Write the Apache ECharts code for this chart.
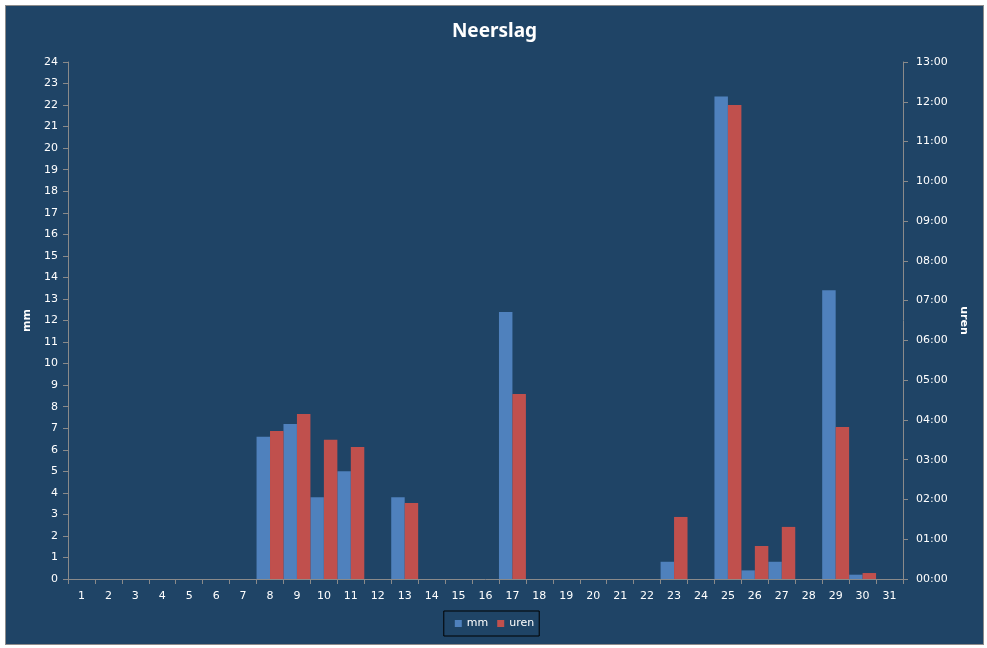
<!DOCTYPE html>
<html>
<head>
<meta charset="utf-8">
<script src="https://cdn.jsdelivr.net/npm/echarts@6/dist/echarts.min.js"></script>
<style>
html,body{margin:0;padding:0;background:#ffffff;width:987px;height:648px;overflow:hidden;}
#frame{position:absolute;left:5px;top:5px;width:977px;height:638px;border:1px solid #8c8c8c;background:#1f4466;}
#chart{width:977px;height:638px;}
</style>
</head>
<body>
<div id="frame"><div id="chart"></div></div>
<script>
const days = ['1','2','3','4','5','6','7','8','9','10','11','12','13','14','15','16','17','18','19','20','21','22','23','24','25','26','27','28','29','30','31'];
const mm = [0,0,0,0,0,0,0,6.6,7.2,3.8,5.0,0,3.8,0,0,0,12.4,0,0,0,0,0,0.8,0,22.4,0.4,0.8,0,13.4,0.2,0];
const uren = [0,0,0,0,0,0,0,3.72,4.15,3.5,3.32,0,1.91,0,0,0,4.65,0,0,0,0,0,1.56,0,11.92,0.83,1.31,0,3.82,0.15,0];
const seriesNames = ['mm','uren'];

const chart = echarts.init(document.getElementById('chart'));
const labelFont = {color:'#ffffff', fontFamily:'DejaVu Sans', fontSize:11};
const axisLineStyle = {lineStyle:{color:'#8a8a8a', width:1}};
chart.setOption({
  backgroundColor:'#1f4466',
  animation:false,
  title:{text:'Neerslag', left:'center', top:11, textStyle:{color:'#ffffff', fontFamily:'Noto Sans', fontWeight:'bold', fontSize:19}},
  legend:{data:seriesNames, left:'center', top:605, itemWidth:7, itemHeight:7, itemGap:9,
    borderColor:'#000000', borderWidth:1, padding:[7,5,7,11], icon:'rect',
    textStyle:{color:'#ffffff', fontFamily:'DejaVu Sans', fontSize:11}},
  grid:{left:62, right:80, top:56, bottom:65},
  xAxis:{type:'category', data:days, axisLine:{show:true, lineStyle:{color:'#8a8a8a'}},
    axisTick:{show:true, alignWithLabel:false, length:5, lineStyle:{color:'#8a8a8a'}},
    axisLabel:Object.assign({margin:12, interval:0}, labelFont), splitLine:{show:false}},
  yAxis:[
    {type:'value', min:0, max:24, interval:1, position:'left', name:'mm', nameLocation:'middle', nameGap:31, nameRotate:90,
      nameTextStyle:{color:'#ffffff', fontFamily:'DejaVu Sans', fontSize:11, fontWeight:'bold'},
      axisLine:Object.assign({show:true}, axisLineStyle), axisTick:{show:true, length:5, lineStyle:{color:'#8a8a8a'}},
      axisLabel:Object.assign({margin:10}, labelFont), splitLine:{show:false}},
    {type:'value', min:0, max:13, interval:1, position:'right', name:'uren', nameLocation:'middle', nameGap:46, nameRotate:-90,
      nameTextStyle:{color:'#ffffff', fontFamily:'DejaVu Sans', fontSize:11, fontWeight:'bold'},
      axisLine:Object.assign({show:true}, axisLineStyle), axisTick:{show:true, length:5, lineStyle:{color:'#8a8a8a'}},
      axisLabel:Object.assign({margin:13, formatter:function(v){return (v<10?'0':'')+v+':00';}}, labelFont), splitLine:{show:false}}
  ],
  series:[
    {name:seriesNames[0], type:'bar', data:mm, yAxisIndex:0, barGap:'0%', barCategoryGap:'0%', itemStyle:{color:'#4f81bd'}},
    {name:seriesNames[1], type:'bar', data:uren, yAxisIndex:1, barGap:'0%', barCategoryGap:'0%', itemStyle:{color:'#c0504d'}}
  ]
});
</script>
</body>
</html>
